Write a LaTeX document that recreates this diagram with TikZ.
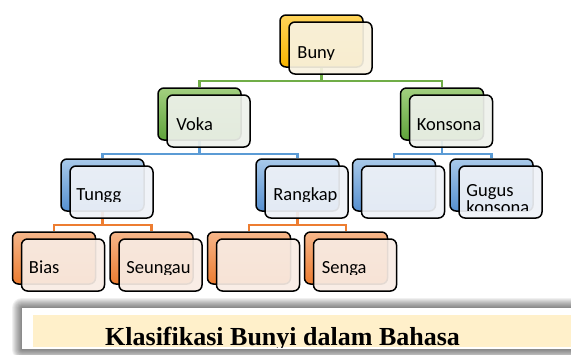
\documentclass[tikz,border=0pt]{standalone}
\usepackage{fontspec}
\setmainfont{Carlito}
\newfontfamily\capfont{Liberation Serif}
\usetikzlibrary{positioning,calc}

\definecolor{goldtop}{HTML}{FFD45A}
\definecolor{goldbot}{HTML}{F7B500}
\definecolor{grntop}{HTML}{A2CF7F}
\definecolor{grnbot}{HTML}{5FA33A}
\definecolor{blutop}{HTML}{A8C9EA}
\definecolor{blubot}{HTML}{5690D0}
\definecolor{orgtop}{HTML}{F6B68A}
\definecolor{orgbot}{HTML}{EC7C30}
\definecolor{grnline}{HTML}{70AD47}
\definecolor{bluline}{HTML}{5B9BD5}
\definecolor{orgline}{HTML}{ED7D31}
\definecolor{goldfront}{HTML}{F8F2E1}
\definecolor{grnfront}{HTML}{EEF1EB}
\definecolor{blufront}{HTML}{EFF2F7}
\definecolor{orgfront}{HTML}{F8ECE4}
\definecolor{capyellow}{HTML}{FFF0CA}

\tikzset{
    backbox/.style 2 args={draw=black, line width=1.5pt, rounded corners=6pt,
        minimum width=83pt, minimum height=52pt, inner sep=0pt,
        top color=#1, bottom color=#2},
    frontbox/.style={draw=black, line width=1.5pt, rounded corners=6pt,
        minimum width=83pt, minimum height=52pt, inner sep=0pt,
        fill=#1, fill opacity=0.92},
    lbl/.style={anchor=base west, inner sep=0pt, align=left,
        font=\fontsize{18.5}{17}\selectfont},
    link/.style={draw=#1, line width=2.2pt}
}

\begin{document}
\begin{tikzpicture}[x=1pt, y=-1pt]
    \useasboundingbox (0,0) rectangle (571,354);
    % back boxes
    \node[backbox={goldtop}{goldbot}] (bunyb) at (321.5,41) {};
    \node[backbox={grntop}{grnbot}] (vokab) at (199.5,114) {};
    \node[backbox={grntop}{grnbot}] (konsb) at (442,114) {};
    \node[backbox={blutop}{blubot}] (tunggb) at (102.5,185) {};
    \node[backbox={blutop}{blubot}] (rangb) at (297.5,185) {};
    \node[backbox={blutop}{blubot}] (kosongb) at (394,185) {};
    \node[backbox={blutop}{blubot}] (gugusb) at (491.5,185) {};
    \node[backbox={orgtop}{orgbot}] (biasb) at (54,258) {};
    \node[backbox={orgtop}{orgbot}] (seungb) at (151.5,258) {};
    \node[backbox={orgtop}{orgbot}] (kosong2b) at (249,258) {};
    \node[backbox={orgtop}{orgbot}] (sengab) at (346,258) {};
    % connectors
    \draw[link=grnline] (bunyb.south) -- ++(0,13) -| (vokab.north);
    \draw[link=grnline] (bunyb.south) -- ++(0,13) -| (konsb.north);
    \draw[link=bluline] (vokab.south) -- ++(0,13) -| (tunggb.north);
    \draw[link=bluline] (vokab.south) -- ++(0,13) -| (rangb.north);
    \draw[link=bluline] (konsb.south) -- ++(0,13) -| (kosongb.north);
    \draw[link=bluline] (konsb.south) -- ++(0,13) -| (gugusb.north);
    \draw[link=orgline] (tunggb.south) -- ++(0,13) -| (biasb.north);
    \draw[link=orgline] (tunggb.south) -- ++(0,13) -| (seungb.north);
    \draw[link=orgline] (rangb.south) -- ++(0,13) -| (kosong2b.north);
    \draw[link=orgline] (rangb.south) -- ++(0,13) -| (sengab.north);
    % front boxes
    \node[frontbox=goldfront] (buny) at ([xshift=9pt,yshift=-7pt]bunyb.center) {};
    \node[frontbox=grnfront] (voka) at ([xshift=9pt,yshift=-7pt]vokab.center) {};
    \node[frontbox=grnfront] (kons) at ([xshift=9pt,yshift=-7pt]konsb.center) {};
    \node[frontbox=blufront] (tungg) at ([xshift=9pt,yshift=-7pt]tunggb.center) {};
    \node[frontbox=blufront] (rang) at ([xshift=9pt,yshift=-7pt]rangb.center) {};
    \node[frontbox=blufront] (kosong) at ([xshift=9pt,yshift=-7pt]kosongb.center) {};
    \node[frontbox=blufront] (gugus) at ([xshift=9pt,yshift=-7pt]gugusb.center) {};
    \node[frontbox=orgfront] (bias) at ([xshift=9pt,yshift=-7pt]biasb.center) {};
    \node[frontbox=orgfront] (seung) at ([xshift=9pt,yshift=-7pt]seungb.center) {};
    \node[frontbox=orgfront] (kosong2) at ([xshift=9pt,yshift=-7pt]kosong2b.center) {};
    \node[frontbox=orgfront] (senga) at ([xshift=9pt,yshift=-7pt]sengab.center) {};
    % labels, cut off like the original
    \begin{scope}
        \clip ([yshift=15pt]buny.south west) rectangle (buny.north east);
        \node[lbl] (bunyt) at ([xshift=9pt,yshift=16pt]buny.south west) {Buny};
    \end{scope}
    \node[lbl] (vokat) at ([xshift=10pt,yshift=17pt]voka.south west) {Voka};
    \node[lbl] (konst) at ([xshift=8pt,yshift=17pt]kons.south west) {Konsona};
    \begin{scope}
        \clip ([yshift=17pt]tungg.south west) rectangle (tungg.north east);
        \node[lbl] (tunggt) at ([xshift=7pt,yshift=18pt]tungg.south west) {Tungg};
    \end{scope}
    \begin{scope}
        \clip ([yshift=17pt]rang.south west) rectangle (rang.north east);
        \node[lbl] (rangt) at ([xshift=9pt,yshift=18pt]rang.south west) {Rangkap};
    \end{scope}
    \begin{scope}
        \clip ([yshift=8pt]gugus.south west) rectangle (gugus.north east);
        \node[lbl] (gugust) at ([xshift=8pt,yshift=5pt]gugus.south west) {Gugus\\konsona};
    \end{scope}
    \node[lbl] (biast) at ([xshift=8pt,yshift=18pt]bias.south west) {Bias};
    \begin{scope}
        \clip ([yshift=17pt]seung.south west) rectangle (seung.north east);
        \node[lbl] (seungt) at ([xshift=8pt,yshift=18pt]seung.south west) {Seungau};
    \end{scope}
    \begin{scope}
        \clip ([yshift=17pt]senga.south west) rectangle (senga.north east);
        \node[lbl] (sengat) at ([xshift=9pt,yshift=18pt]senga.south west) {Senga};
    \end{scope}
    % caption bar
    \node[fill=white, minimum width=570pt, minimum height=41pt, inner sep=0pt,
        anchor=north west] (capbox) at (22,308) {};
    \foreach \s in {1,...,10}
        \fill[black, opacity=0.06, rounded corners=\s pt]
            ($(capbox.south west)+(-\s,\s)$) rectangle ($(capbox.north east)+(\s,-\s)$);
    \fill[white] (capbox.south west) rectangle (capbox.north east);
    \node[fill=capyellow, minimum width=560pt, minimum height=32pt, inner sep=0pt,
        anchor=north west] (capband) at (33,315) {};
    \begin{scope}
        \clip (capband.south west) rectangle (capband.north east);
        \node[anchor=base west, inner sep=0pt, font=\capfont\bfseries\fontsize{26}{30}\selectfont]
            (captxt) at (105,345) {Klasifikasi Bunyi dalam Bahasa};
    \end{scope}
\end{tikzpicture}
\end{document}
